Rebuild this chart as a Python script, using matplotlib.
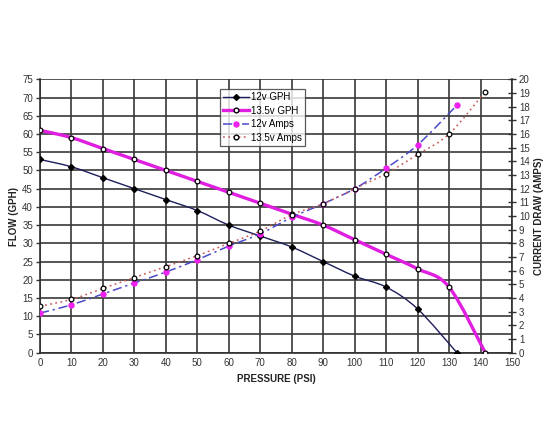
import matplotlib
matplotlib.use("Agg")
import matplotlib.pyplot as plt
from matplotlib.path import Path
from matplotlib.patches import PathPatch
import numpy as np

plt.rcParams['font.family'] = ['Liberation Sans', 'DejaVu Sans']

# Data
psi_12 = [0, 10, 20, 30, 40, 50, 60, 70, 80, 90, 100, 110, 120, 132.5]
gph_12 = [53, 51, 48, 45, 42, 39, 35, 32, 29, 25, 21, 18, 12, 0]
psi_135 = [0, 10, 20, 30, 40, 50, 60, 70, 80, 90, 100, 110, 120, 130, 141.5]
gph_135 = [61, 59, 56, 53, 50, 47, 44, 41, 38, 35, 31, 27, 23, 18, 0]
amps_psi_12 = [0, 10, 20, 30, 40, 50, 60, 70, 80, 90, 100, 110, 120, 132.5]
amps_12 = [2.9, 3.5, 4.3, 5.1, 5.9, 6.8, 7.8, 8.7, 9.9, 10.9, 12.0, 13.5, 15.2, 18.1]
amps_psi_135 = [0, 10, 20, 30, 40, 50, 60, 70, 80, 90, 100, 110, 120, 130, 141.5]
amps_135 = [3.4, 3.9, 4.7, 5.5, 6.3, 7.1, 8.0, 8.9, 10.1, 10.9, 12.0, 13.1, 14.5, 16.0, 19.1]

x_ticks = list(range(0, 151, 10))
flow_ticks = list(range(0, 76, 5))
amp_ticks = list(range(0, 21, 1))


def smooth_path(ax, xs, ys):
    """Excel-style smoothed line as cubic Bezier path (in display space)."""
    pts = ax.transData.transform(np.column_stack([xs, ys]))
    n = len(pts)
    verts = [pts[0]]
    codes = [Path.MOVETO]
    for i in range(n - 1):
        p0 = pts[i - 1] if i > 0 else pts[i]
        p1 = pts[i]
        p2 = pts[i + 1]
        p3 = pts[i + 2] if i + 2 < n else pts[i + 1]
        c1 = p1 + (p2 - p0) / 6.0
        c2 = p2 - (p3 - p1) / 6.0
        verts += [c1, c2, p2]
        codes += [Path.CURVE4] * 3
    verts = ax.transData.inverted().transform(np.array(verts))
    return Path(verts, codes)


fig = plt.figure(figsize=(5.5, 4.4), dpi=100)
ax = fig.add_axes([40 / 550, 1 - 352.7 / 440, 472 / 550, 273.4 / 440])
ax2 = ax.twinx()

ax.set_xlim(0, 150)
ax.set_ylim(0, 75)
ax2.set_ylim(0, 20)
ax.set_xticks(x_ticks)
ax.set_yticks(flow_ticks)
ax2.set_yticks(amp_ticks)

grid_c = '#383838'
ax.grid(True, color=grid_c, linewidth=1.2)
ax.set_axisbelow(True)
for a in (ax, ax2):
    for s in a.spines.values():
        s.set_visible(False)
ax.spines['left'].set_visible(True)
ax.spines['bottom'].set_visible(True)
ax2.spines['right'].set_visible(True)
for sp in (ax.spines['left'], ax.spines['bottom'], ax2.spines['right']):
    sp.set_color('#303030')
    sp.set_linewidth(1.2)

ax.tick_params(axis='both', labelsize=7, colors='#333333', length=3, width=1)
ax.tick_params(axis='y', pad=2)
ax.tick_params(axis='x', length=0, pad=4)
ax2.tick_params(axis='y', labelsize=7, colors='#333333', direction='inout', length=6, width=1, pad=2)

fig.canvas.draw()

# 12v GPH
ax.add_patch(PathPatch(smooth_path(ax, psi_12, gph_12), fill=False, edgecolor='#1e1e5c', linewidth=1.0, zorder=4))
ax.plot(psi_12, gph_12, linestyle='none', marker='D', markersize=3.0, color='black', zorder=5)
# 13.5v GPH
ax.add_patch(PathPatch(smooth_path(ax, psi_135, gph_135), fill=False, edgecolor='#e01ee0', linewidth=2.4, zorder=4))
ax.plot(psi_135, gph_135, linestyle='none', marker='o', markersize=3.4, markerfacecolor='white',
        markeredgecolor='black', markeredgewidth=0.9, zorder=5)
# 12v Amps
ax2.add_patch(PathPatch(smooth_path(ax2, amps_psi_12, amps_12), fill=False, edgecolor='#4a4ac8', linewidth=1.1,
                        linestyle=(0, (6, 2.5, 1.5, 2.5)), zorder=4))
ax2.plot(amps_psi_12, amps_12, linestyle='none', marker='o', markersize=3.6, color='#ee22ee', zorder=5)
# 13.5v Amps
ax2.add_patch(PathPatch(smooth_path(ax2, amps_psi_135, amps_135), fill=False, edgecolor='#c85a5a', linewidth=1.1,
                        linestyle=(0, (1.2, 2.2)), zorder=4))
ax2.plot(amps_psi_135, amps_135, linestyle='none', marker='o', markersize=3.4, markerfacecolor='white',
         markeredgecolor='black', markeredgewidth=0.9, zorder=5)

# Legend proxies
h1, = ax.plot([], [], color='#1e1e5c', lw=1.0, marker='D', markersize=3.0, markerfacecolor='black', markeredgecolor='black')
h2, = ax.plot([], [], color='#e01ee0', lw=2.4, marker='o', markersize=3.4, markerfacecolor='white', markeredgecolor='black')
h3, = ax.plot([], [], color='#4a4ac8', lw=1.1, ls=(0, (6, 2.5, 1.5, 2.5)), marker='o', markersize=3.6,
              markerfacecolor='#ee22ee', markeredgecolor='#ee22ee')
h4, = ax.plot([], [], color='#c85a5a', lw=1.1, ls=(0, (1.2, 2.2)), marker='o', markersize=3.4,
              markerfacecolor='white', markeredgecolor='black')
leg = ax2.legend([h1, h2, h3, h4], ['12v GPH', '13.5v GPH', '12v Amps', '13.5v Amps'],
                 loc='upper left', bbox_to_anchor=((220 - 40) / 472, 1 - (89 - 79.3) / 273.4),
                 fontsize=7, frameon=True, fancybox=False, borderpad=0.35, labelspacing=0.35,
                 handlelength=2.6, handletextpad=0.2, borderaxespad=0)
leg.get_frame().set_edgecolor('#333333')
leg.get_frame().set_linewidth(0.9)
leg.set_zorder(10)

ax.set_xlabel('PRESSURE (PSI)', fontsize=7, fontweight='bold', color='#222222', labelpad=4)
ax.set_ylabel('FLOW (GPH)', fontsize=7, fontweight='bold', color='#222222', labelpad=2)
ax2.set_ylabel('CURRENT DRAW (AMPS)', fontsize=7, fontweight='bold', color='#222222', labelpad=3)

fig.savefig('out.png', dpi=100, facecolor='white')
